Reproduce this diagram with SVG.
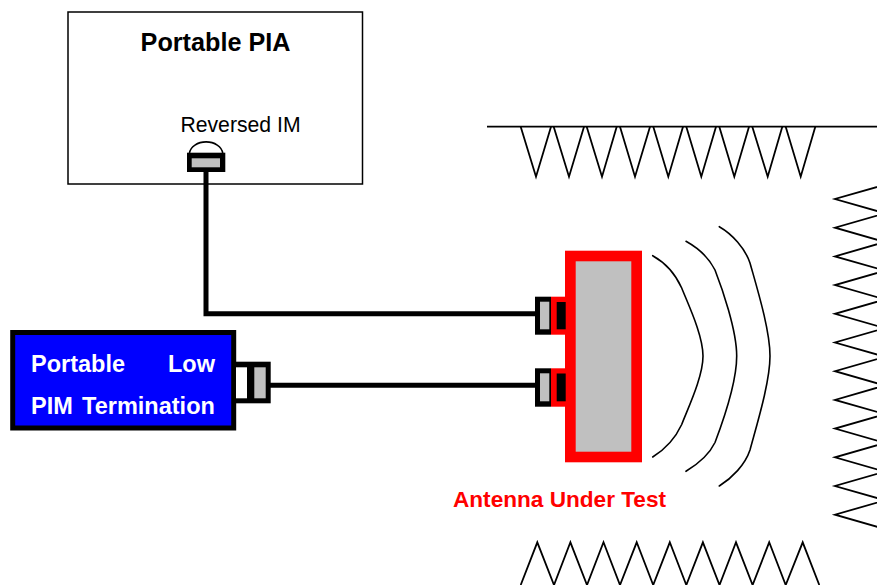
<svg xmlns="http://www.w3.org/2000/svg" width="877" height="585" viewBox="0 0 877 585">
<style>
text{font-family:"Liberation Sans",Arial,sans-serif}
.b{font-weight:bold}
.z{fill:none;stroke:#000;stroke-width:1.8;stroke-linejoin:miter}
.w{fill:none;stroke:#000;stroke-width:1.6;stroke-linecap:round}
.cable{fill:none;stroke:#000;stroke-width:5;stroke-linejoin:miter}
.k{fill:#000}.g{fill:#c0c0c0}.r{fill:#f00}
</style>
<rect width="877" height="585" fill="#fff"/>
<g id="portable-pia">
<rect x="68" y="12" width="294.500" height="172" fill="#fff" stroke="#000" stroke-width="1.500"/>
<text class="b" x="215.500" y="50.500" font-size="25.200" text-anchor="middle">Portable PIA</text>
<text x="240.500" y="132" font-size="21.200" text-anchor="middle">Reversed IM</text>
<path d="M189.500 153 A16.700 12.500 0 0 1 222.700 153" fill="none" stroke="#000" stroke-width="1.600"/>
<rect class="k" x="187" y="152.700" width="38.300" height="19.300"/>
<rect class="g" x="191.700" y="158.300" width="28.300" height="9"/>
</g>
<g id="connectors">
<path class="cable" d="M206 172V313.700H536"/>
<path class="cable" d="M270 385.300H536"/>
</g>
<g id="termination">
<rect x="12.700" y="332.500" width="221" height="95.500" fill="#00f" stroke="#000" stroke-width="5"/>
<text class="b" x="31" y="372" font-size="23.500" fill="#fff">Portable</text>
<text class="b" x="215" y="372" font-size="23.500" fill="#fff" text-anchor="end">Low</text>
<text class="b" x="31" y="414" font-size="23.500" fill="#fff" word-spacing="2.800">PIM Termination</text>
<rect class="k" x="236" y="361.700" width="34.700" height="41.600"/>
<rect x="236" y="367.300" width="11" height="31" fill="#fff"/>
<rect class="g" x="254.300" y="367.300" width="11.400" height="31"/>
</g>
<g id="antenna">
<rect class="r" x="565" y="250.700" width="77" height="211.600"/>
<rect class="g" x="575.700" y="261.300" width="55.600" height="190.400"/>
<rect class="r" x="551" y="296.700" width="14" height="38"/>
<rect class="k" x="556.700" y="302" width="9" height="27.300"/>
<rect class="k" x="535" y="296.700" width="16" height="38"/>
<rect class="g" x="540" y="301.700" width="9.300" height="27.600"/>
<rect class="r" x="551" y="368.300" width="14" height="38.400"/>
<rect class="k" x="556.700" y="373.500" width="9" height="27.800"/>
<rect class="k" x="535" y="368.300" width="16" height="38.400"/>
<rect class="g" x="540" y="373.300" width="9.300" height="28"/>
<text class="b" x="453" y="506.500" font-size="22.600" fill="#f00">Antenna Under Test</text>
</g>
<g id="waves">
<path class="w" d="M652.700 255.700C664 262 675 273 681.700 288C688 304 703 335 703 356C703 377 688 408 681.700 424.500C675 439 664 450 652.700 457"/>
<path class="w" d="M686 241.300C698 248 709 258 715 270C722 288 736.700 330 736.700 356C736.700 382 722 424 715 442.500C709 455 698 464 686 471.300"/>
<path class="w" d="M719.300 226.700C732 234 745 248 750 263C757 288 770 330 770 356C770 382 757 424 750 450C745 465 732 478 719.300 486"/>
</g>
<g id="absorbers">
<path class="z" d="M487 126.700H877"/>
<path class="z" d="M520.700 126.700L536 176.700L551 126.700M553.700 126.700L569 176.700L584 126.700M586.700 126.700L602 176.700L616.700 126.700M620 126.700L635 176.700L650 126.700M653.300 126.700L668.300 176.700L683 126.700M686.300 126.700L701.300 176.700L716 126.700M719.300 126.700L734.300 176.700L749 126.700M752.300 126.700L767.700 176.700L782.300 126.700M785.700 126.700L800.700 176.700L815.300 126.700"/>
<path class="z" d="M885 184.700L835 199L885 213.300L835 227.700L885 242L835 256.400L885 270.700L835 285.100L885 299.400L835 313.800L885 328.100L835 342.500L885 356.800L835 371.200L885 385.500L835 399.900L885 414.200L835 428.600L885 442.900L835 457.300L885 471.600L835 486L885 500.300L835 514.700L885 529"/>
<path class="z" d="M520.700 585L537.300 542.300L554 585L570.400 542.300L587 585L603.500 542.300L620 585L636.700 542.300L653.200 585L669.800 542.300L686.300 585L702.900 542.300L719.500 585L736 542.300L752.600 585L769.200 542.300L785.700 585L802.700 542.300L819.300 585"/>
</g>
</svg>
